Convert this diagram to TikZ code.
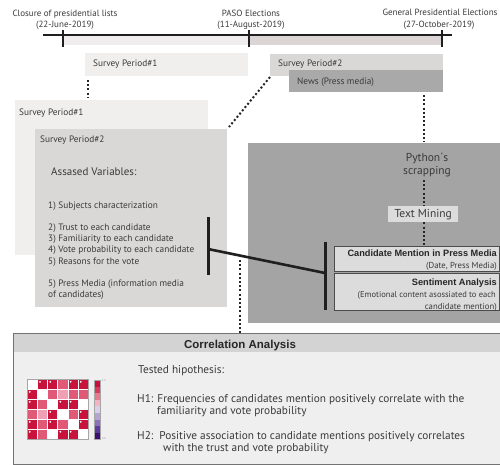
\documentclass[tikz,border=0pt]{standalone}
\usepackage{fontspec}
\setmainfont{PT Sans}
\newfontfamily\arialf{Liberation Sans}
\definecolor{tgray}{HTML}{3A3A3A}
\definecolor{bandA}{HTML}{EFEDED}
\definecolor{bandB}{HTML}{DCD5D5}
\definecolor{spA}{HTML}{F1EEEE}
\definecolor{spB}{HTML}{DAD7D7}
\definecolor{newsC}{HTML}{A9A9A9}
\definecolor{bigG}{HTML}{A4A4A4}
\definecolor{boxL}{HTML}{DCDCDC}
\definecolor{corrH}{HTML}{D3D3D3}
\definecolor{corrB}{HTML}{EFEFEF}
\definecolor{hR}{HTML}{C8143C}
\definecolor{hM}{HTML}{E05A78}
\definecolor{hL}{HTML}{F0A0B4}
\definecolor{cb1}{HTML}{C8103C}
\definecolor{cb2}{HTML}{D83A5A}
\definecolor{cb3}{HTML}{E87A90}
\definecolor{cb4}{HTML}{F2B4C2}
\definecolor{cb5}{HTML}{D8D0E6}
\definecolor{cb6}{HTML}{B4A4D2}
\definecolor{cb7}{HTML}{8A72BA}
\definecolor{cb8}{HTML}{5C3C9A}
\definecolor{cb9}{HTML}{3A1070}
\newcommand{\hc}[3]{% row col type
  \ifx#3W\def\cc{white}\fi
  \ifx#3D\def\cc{hR}\fi
  \ifx#3M\def\cc{hM}\fi
  \ifx#3L\def\cc{hL}\fi
  \fill[\cc] ({27+#2*10.2},{379+#1*10}) rectangle ++(10.2,10);
  \draw[white, line width=0.5pt] ({27+#2*10.2},{379+#1*10}) rectangle ++(10.2,10);
  \ifx#3D\fill[white] ({27+#2*10.2+2.8},{379+#1*10+2.8}) circle (1pt);\fi
}
\begin{document}
\begin{tikzpicture}[x=1pt,y=-1pt,
  txt/.style={inner sep=0pt, anchor=base west, text=tgray, font=\fontsize{9.3}{10}\selectfont},
  ctxt/.style={inner sep=0pt, anchor=base, text=tgray, font=\fontsize{9}{10}\selectfont},
  btxt/.style={inner sep=0pt, anchor=base east, text=black!85, font=\arialf\bfseries\fontsize{9.2}{10}\selectfont},
  rtxt/.style={inner sep=0pt, anchor=base east, text=tgray, font=\fontsize{8.7}{10}\selectfont},
  htxt/.style={inner sep=0pt, anchor=base west, text=tgray, font=\fontsize{11.3}{12}\selectfont},
  area/.style={inner sep=0pt, anchor=north west, draw=none},
  dotl/.style={line width=2pt, dash pattern=on 2pt off 2.2pt, draw=black!85},
  barl/.style={line width=3pt, draw=black!88},
  linkl/.style={line width=2.6pt, draw=black!88}
]
\useasboundingbox (0,0) rectangle (500,464);
\fill[white] (0,0) rectangle (500,464);

% ---------- timeline ----------
\fill[bandA] (63,35) rectangle (249,45);
\fill[bandB] (249,35) rectangle (442,45);
\coordinate (tl0) at (43,35);
\coordinate (tl1) at (452,35);
\draw[line width=2pt, black!88] (tl0) -- (tl1);
\foreach \xx in {63,249,442}{
  \draw[line width=2pt, black!88] (\xx,30) -- (\xx,47);
}
\node[ctxt] (lab1) at (65,16) {Closure of presidential lists};
\node[ctxt] (lab1b) at (65,27) {(22-June-2019)};
\node[ctxt] (lab2) at (251,16) {PASO Elections};
\node[ctxt] (lab2b) at (251,27) {(11-August-2019)};
\node[ctxt] (lab3) at (440,15) {General Presidential Elections};
\node[ctxt] (lab3b) at (439,27) {(27-October-2019)};

% ---------- top survey periods ----------
\node[area, fill=spA, minimum width=163pt, minimum height=23pt] (sp1top) at (85,53) {};
\node[txt] (sp1toptxt) at (93,66) {Survey Period\#1};
\node[area, fill=spB, minimum width=173pt, minimum height=22pt] (sp2top) at (270,54) {};
\node[txt] (sp2toptxt) at (278,66) {Survey Period\#2};
\node[area, fill=newsC, minimum width=154pt, minimum height=22pt] (news) at (289,70) {};
\node[txt] (newstxt) at (297,84) {News (Press media)};

% ---------- big survey boxes ----------
\node[area, fill=spA, minimum width=193pt, minimum height=155pt] (sp1) at (15,100) {};
\node[txt] (sp1txt) at (19,115) {Survey Period\#1};
\node[area, fill=spB, minimum width=192pt, minimum height=178pt] (sp2) at (35,129) {};
\node[txt] (sp2txt) at (40,142) {Survey Period\#2};
\node[txt, font=\fontsize{11}{13}\selectfont] (vars) at (51,175) {Assased Variables:};
\node[txt] (v1) at (48,208) {1) Subjects characterization};
\node[txt] (v2) at (48,230) {2) Trust to each candidate};
\node[txt] (v3) at (48,241) {3) Familiarity to each candidate};
\node[txt] (v4) at (48,252) {4) Vote probability to each candidate};
\node[txt] (v5) at (48,264) {5) Reasons for the vote};
\node[txt] (v6) at (48,286) {5) Press Media (information media};
\node[txt] (v7) at (48,297) {of candidates)};

% ---------- big grey box ----------
\node[area, fill=bigG, minimum width=252pt, minimum height=180pt] (grey) at (248,143) {};
\node[inner sep=0pt, align=center, text=tgray, font=\fontsize{11.5}{12.5}\selectfont, anchor=center] (py) at (427,165) {Python\textasciiacute s\\scrapping};
\node[area, fill=boxL, minimum width=70pt, minimum height=16pt] (tm) at (388,206) {};
\node[inner sep=0pt, text=tgray, font=\fontsize{11.5}{12}\selectfont] (tmtxt) at (tm.center) {Text Mining};
\node[area, fill=boxL, draw=black!70, line width=0.9pt, minimum width=165pt, minimum height=25pt] (cand) at (334,246) {};
\node[btxt] (candt1) at (497,256) {Candidate Mention in Press Media};
\node[rtxt] (candt2) at (497,268) {(Date, Press Media)};
\node[area, fill=boxL, draw=black!70, line width=0.9pt, minimum width=165pt, minimum height=37pt] (sent) at (334,273) {};
\node[btxt] (sentt1) at (497,285) {Sentiment Analysis};
\node[rtxt, font=\fontsize{8.5}{10}\selectfont] (sentt2) at (496,297) {(Emotional content asossiated to each};
\node[rtxt] (sentt3) at (497,309) {candidate mention)};

% ---------- correlation box ----------
\node[area, fill=corrB, minimum width=487pt, minimum height=131pt] (corr) at (13,333) {};
\fill[corrH] (corr.north west) rectangle (corr.north east |- 0,352);
\draw[black!55, line width=0.8pt] (corr.north west) rectangle (corr.south east);
\node[inner sep=0pt, anchor=base, font=\arialf\bfseries\fontsize{11.5}{12}\selectfont, text=black!85] (corrt) at (240,348) {Correlation Analysis};
\node[htxt] (th) at (138,373) {Tested hipothesis:};
\node[htxt] (h1a) at (137,402) {H1: Frequencies of candidates mention positively correlate with the};
\node[htxt] (h1b) at (157,414) {familiarity and vote probability};
\node[htxt] (h2a) at (137,439) {H2:\ \ Positive association to candidate mentions positively correlates};
\node[htxt] (h2b) at (163,451) {with the trust and vote probability};

% ---------- heatmap ----------
\hc00W\hc01D\hc02D\hc03M\hc04D\hc05D
\hc10D\hc11W\hc12M\hc13L\hc14M\hc15M
\hc20D\hc21M\hc22W\hc23D\hc24D\hc25W
\hc30M\hc31L\hc32D\hc33W\hc34M\hc35D
\hc40D\hc41M\hc42D\hc43M\hc44W\hc45D
\hc50D\hc51M\hc52W\hc53D\hc54D\hc55W
\draw[black!35, line width=0.5pt] (27,379) rectangle (88.2,439);
\foreach \i/\cl in {0/cb1,1/cb2,2/cb3,3/cb4,4/cb5,5/cb6,6/cb7,7/cb8,8/cb9}{
  \fill[\cl] (94,{380+\i*6.6}) rectangle (100,{380+\i*6.6+6.6});
}
\draw[black!35, line width=0.3pt] (94,380) rectangle (100,439.4);
\node[inner sep=0pt, anchor=west, font=\fontsize{2.5}{3}\selectfont, text=black!50] (cbhi) at (102,381) {1.0};
\node[inner sep=0pt, anchor=west, font=\fontsize{2.5}{3}\selectfont, text=black!50] (cblo) at (102,439) {0.0};

% ---------- connectors ----------
\coordinate (d1a) at (88,80);
\coordinate (d1b) at (88,98);
\draw[dotl] (d1a) -- (d1b);
\coordinate (d2a) at (270,77);
\coordinate (d2b) at (229,127);
\draw[dotl] (d2a) -- (d2b);
\coordinate (d3a) at (424,95);
\coordinate (d3b) at (424,142);
\draw[dotl] (d3a) -- (d3b);
\coordinate (d4a) at (424,180);
\draw[dotl] (d4a) -- (tm.north -| d4a);
\draw[dotl] (tm.south -| d4a) -- (cand.north -| d4a);
\coordinate (d5a) at (240,260);
\draw[dotl] (d5a) -- (corr.north -| d5a);

\coordinate (lbT) at (208,217);
\coordinate (lbB) at (208,275);
\coordinate (lbM) at (208,249);
\coordinate (rbT) at (325,242);
\coordinate (rbB) at (325,310);
\coordinate (rbM) at (325,273);
\draw[barl] (lbT) -- (lbB);
\draw[barl] (rbT) -- (rbB);
\draw[linkl] (lbM) -- (rbM);
\end{tikzpicture}
\end{document}
